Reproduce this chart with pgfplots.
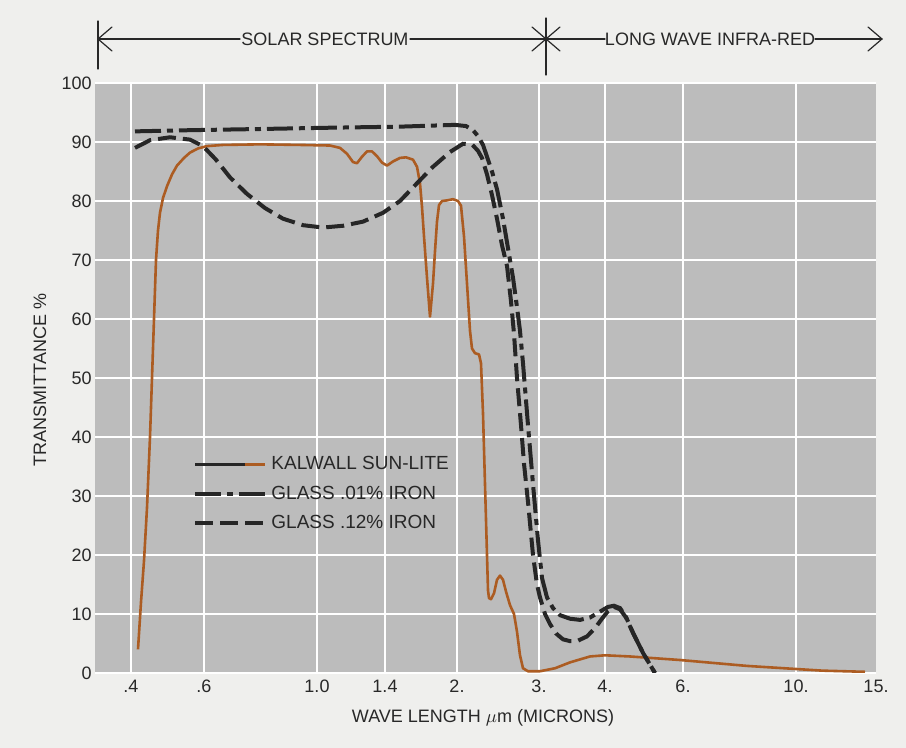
\documentclass[border=0pt]{standalone}
\usepackage{pgfplots}
\pgfplotsset{compat=1.18}
\usepackage{fontspec}
\setmainfont{Liberation Sans}
\definecolor{bgcol}{RGB}{239,239,237}
\definecolor{plotbg}{RGB}{188,188,188}
\definecolor{txtcol}{RGB}{40,40,40}
\definecolor{kal}{RGB}{172,92,34}
\definecolor{ink}{RGB}{38,38,38}
\pgfplotsset{legend image code/.code={\draw[#1] (0pt,0pt) -- (35pt,0pt);}}

% x values are positions on the chart's printed wavelength scale
% (.4 = 131, .6 = 204, 1.0 = 317, 1.4 = 385, 2. = 457, 3. = 539, 4. = 605, 6. = 683, 10. = 796, 15. = 876)

\begin{document}
\begin{tikzpicture}
\path[use as bounding box, fill=bgcol] (0,0) rectangle (453pt,374pt);
\begin{axis}[
  at={(47.5pt,37.5pt)}, anchor=south west,
  width=390.5pt, height=295pt, scale only axis,
  xmin=95, xmax=876, ymin=0, ymax=100,
  axis background/.style={fill=plotbg},
  axis line style={draw=none},
  major tick length=0pt,
  xtick={131,204,317,385,457,539,605,683,796},
  xticklabels={.4,.6,1.0,1.4,2.,3.,4.,6.,10.},
  extra x ticks={876}, extra x tick labels={15.},
  extra x tick style={grid=none},
  ytick={0,10,...,100},
  yticklabels={0,10,20,30,40,50,60,70,80,90,100},
  /pgf/number format/assume math mode=true,
  grid=major,
  major grid style={white, line width=1pt},
  tick label style={font=\fontsize{9}{10}\selectfont, text=txtcol},
  yticklabel style={anchor=east, inner sep=0pt, xshift=-1.5pt},
  xticklabel style={anchor=north, inner sep=0pt, yshift=-3.5pt},
  xlabel={WAVE LENGTH $\mu$m (MICRONS)},
  ylabel={TRANSMITTANCE \%},
  xlabel style={at={(axis description cs:0.4968,-0.0763)}, anchor=center, font=\fontsize{9}{10}\selectfont, text=txtcol},
  ylabel style={at={(axis description cs:-0.0704,0.4966)}, anchor=center, font=\fontsize{9}{10}\selectfont, text=txtcol},
  legend style={at={(axis description cs:0.1255,0.3034)}, anchor=west, draw=none, fill=none,
    inner sep=0pt, row sep=2.5pt, font=\fontsize{9.5}{10}\selectfont, text=txtcol},
  legend cell align=left,
]
\addplot[kal, line width=1.3pt, line join=round,
  legend image code/.code={\draw[ink, line width=1.3pt] (0pt,0pt) -- (25pt,0pt); \draw[kal, line width=1.3pt] (25pt,0pt) -- (35pt,0pt);}]
coordinates {
(138,4) (141,12) (144,19) (147,28) (150,40) (152,50) (154,60) (156,70) (158,75) (160,78)
(163,80.5) (167,82.5) (172,84.5) (177,86) (184,87.3) (190,88.2) (198,88.9) (207,89.3)
(223,89.5) (260,89.6) (300,89.5) (330,89.4) (340,89.0) (347,88) (353,86.6) (357,86.4)
(362,87.5) (367,88.4) (372,88.4) (377,87.6) (382,86.5) (387,86.0) (393,86.7) (400,87.3)
(406,87.4) (413,87.0) (417,85.8) (420,83.0) (422,79) (424,74) (427,67) (430,60.4)
(433,66) (435,71.5) (437,76.5) (439,79.3) (442,80.0) (447,80.1) (453,80.3) (458,80.0)
(461,79.2) (464,74) (467,66) (470,58) (472,55) (475,54.2) (479,54.0) (481,52.5)
(483,44) (485,32) (487,20) (488,14) (489,12.7) (491,12.5) (494,13.5) (497,15.8)
(500,16.5) (503,15.8) (506,13.8) (510,11.5) (514,10) (517,7) (520,3) (523,0.8)
(528,0.3) (540,0.3) (555,0.8) (570,1.8) (590,2.8) (605,3.0) (630,2.8) (680,2.2)
(747,1.2) (822,0.4) (865,0.2)
};
\addlegendentry{KALWALL SUN-LITE}
\addplot[ink, line width=2pt, dash pattern=on 13pt off 3pt on 3pt off 3pt]
coordinates {
(135,91.8) (190,92.0) (260,92.2) (323,92.4) (400,92.6) (455,92.9) (466,92.7) (473,92.0)
(478,91.0) (483,89.5) (487,87.5) (492,85) (497,82) (503,77) (507,73) (513,67) (517,62)
(520,58) (523,52.5) (528,42) (533,32) (538,22.5) (542,16.1) (547,12.8) (553,11)
(560,9.8) (570,9.2) (580,9.0) (590,9.4) (600,10.4) (608,11.2) (614,11.4) (620,11.0)
(626,9.5) (633,6.8) (643,3.4) (655,0)
};
\addlegendentry{GLASS .01\% IRON}
\addplot[ink, line width=2pt, dash pattern=on 9pt off 3.5pt]
coordinates {
(135,89.0) (150,90.3) (170,90.8) (190,90.4) (203,89.3) (216,87.0) (230,84.0) (247,81.2)
(265,78.8) (283,77.0) (303,75.9) (323,75.5) (343,75.8) (363,76.5) (383,78.0) (400,80.0)
(417,83.0) (433,85.8) (450,88.3) (463,89.7) (472,89.6) (478,88.5) (482,87.3) (487,84.5)
(492,81) (497,77) (502,72.5) (507,69) (511,63) (514,57.5) (517,50) (521,42) (524,35.5)
(528,29) (533,20) (537,15) (540,12.8) (545,10) (550,8.3) (556,6.7) (563,5.7) (570,5.4)
(577,5.4) (587,6.2) (595,7.6) (602,9.2) (608,10.5) (614,11.2) (620,10.8) (626,9.4)
(633,6.8) (643,3.4) (655,0)
};
\addlegendentry{GLASS .12\% IRON}
\end{axis}
% range annotation above the chart (page pixels, measured from the top)
\begin{scope}[x=0.5pt, y=-0.5pt, yshift=374pt, draw=txtcol, line width=0.6pt, line cap=round, line join=round]
\draw (98,21) -- (98,69);
\draw (112,27) -- (98,39) -- (112,51);
\draw (98,39) -- (240,39);
\node[text=txtcol, font=\fontsize{9}{10}\selectfont, inner sep=0pt] at (325,39) {SOLAR SPECTRUM};
\draw (410,39) -- (546,39);
\draw (546,18) -- (546,75);
\draw (532,27) -- (546,39) -- (532,51);
\draw (560,27) -- (546,39) -- (560,51);
\draw (546,39) -- (605,39);
\node[text=txtcol, font=\fontsize{9}{10}\selectfont, inner sep=0pt] at (710,39) {LONG WAVE INFRA-RED};
\draw (815,39) -- (882,39);
\draw (868,27) -- (882,39) -- (868,51);
\end{scope}
\end{tikzpicture}
\end{document}
